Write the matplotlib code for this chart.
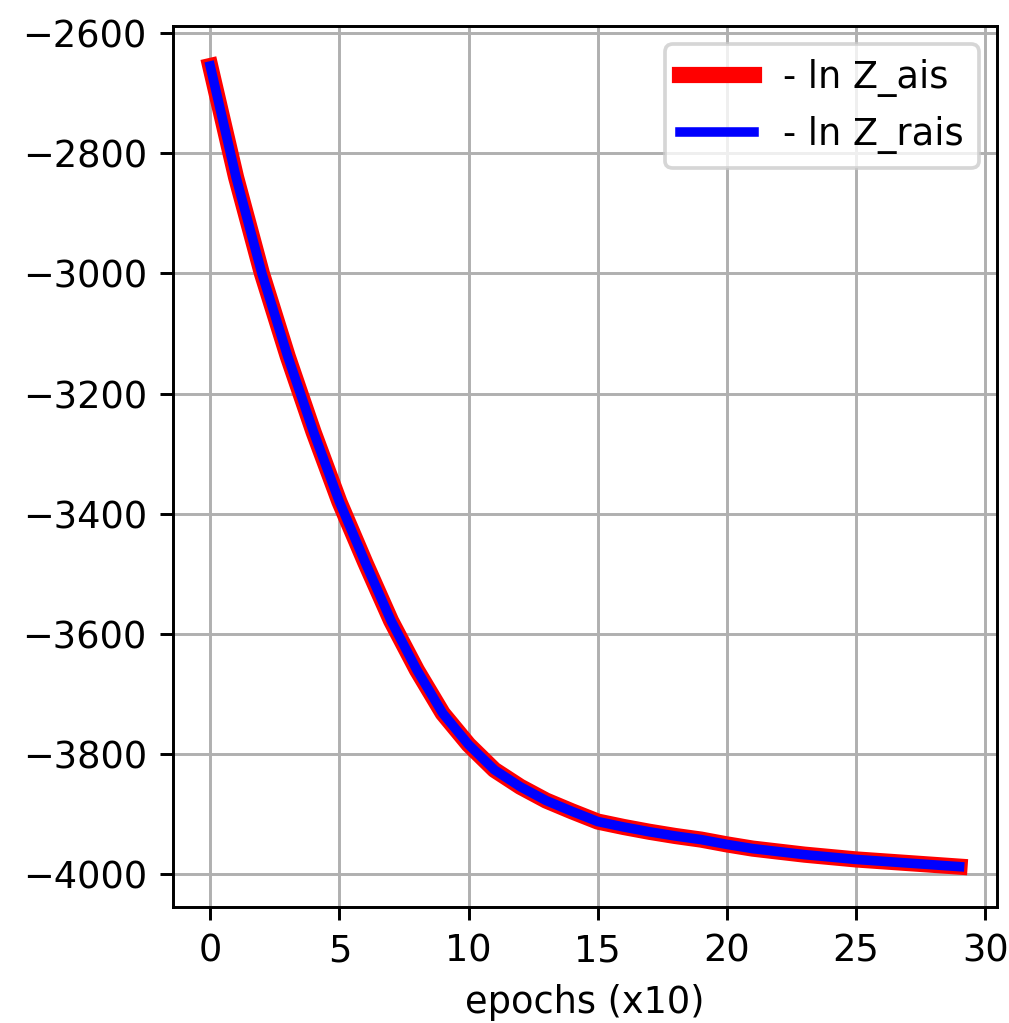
import matplotlib
matplotlib.use("Agg")
import matplotlib.pyplot as plt

# -ln Z estimates logged every 10 epochs
epochs = list(range(30))
neg_ln_z_ais = [
    -2655, -2840, -3000, -3138, -3264, -3380, -3481, -3578, -3660, -3732,
    -3784, -3826, -3854, -3877, -3895, -3912, -3921, -3929, -3936, -3942,
    -3950, -3957, -3962, -3967, -3971, -3975, -3978, -3981, -3984, -3987,
]
neg_ln_z_rais = [
    -2655, -2840, -3000, -3138, -3264, -3380, -3481, -3578, -3660, -3732,
    -3784, -3826, -3854, -3877, -3895, -3912, -3921, -3929, -3936, -3942,
    -3950, -3957, -3962, -3967, -3971, -3975, -3978, -3981, -3984, -3987,
]

DPI = 265
fig = plt.figure(figsize=(1009 / DPI, 1023 / DPI), dpi=DPI)
ax = fig.add_axes([0.1712, 0.1137, 0.9881 - 0.1712, 0.9746 - 0.1137])
ax.plot(epochs, neg_ln_z_ais, color="red", linewidth=4.4, label="- ln Z_ais")
ax.plot(epochs, neg_ln_z_rais, color="blue", linewidth=2.6, label="- ln Z_rais")
ax.set_xlabel("epochs (x10)")
ax.set_yticks([-4000, -3800, -3600, -3400, -3200, -3000, -2800, -2600])
ax.grid(True)
ax.legend(loc="upper right")

fig.savefig("out.png", dpi=DPI)
